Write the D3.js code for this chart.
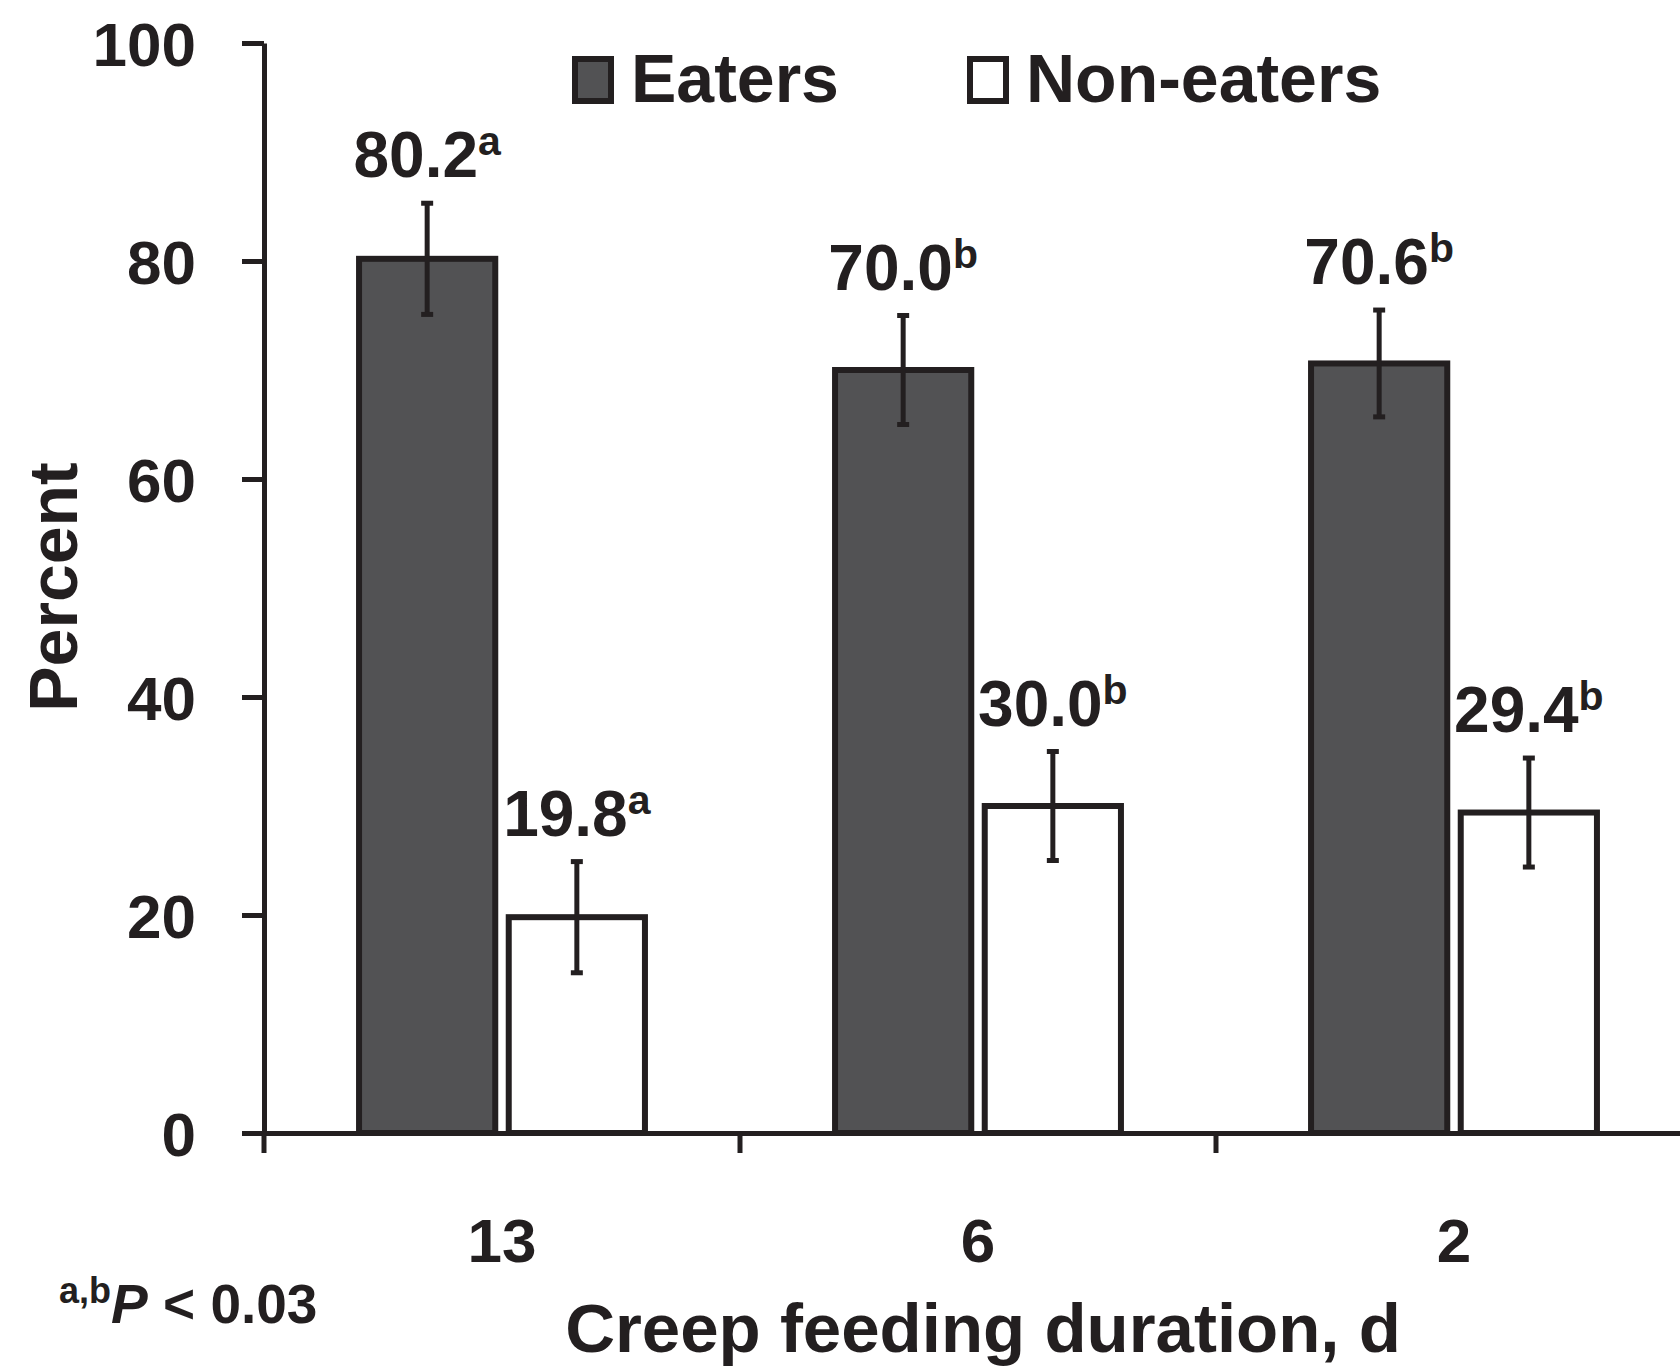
<!DOCTYPE html>
<html lang="en">
<head>
    <meta charset="UTF-8">
    <title>Creep feeding duration - Eaters vs Non-eaters</title>
    <script src="https://d3js.org/d3.v7.min.js"></script>
    <style>
        body {
            margin: 0;
            background: #fff;
        }

        svg {
            display: block;
            font-family: "Liberation Sans", Arial, sans-serif;
            font-weight: bold;
            fill: #231f20;
        }

        .axis path,
        .axis line {
            stroke: #231f20;
            stroke-width: 5px;
        }

        .axis text {
            font-size: 62px;
            fill: #231f20;
        }

        .bar {
            stroke: #231f20;
            stroke-width: 6px;
        }

        .err {
            stroke: #231f20;
            stroke-width: 5px;
        }
    </style>
</head>
<body>
    <svg class="chart"></svg>

    <script>
        // Datos
        const categories = ["13", "6", "2"];
        const series = ["Eaters", "Non-eaters"];
        const eaters = [80.2, 70.0, 70.6];
        const nonEaters = [19.8, 30.0, 29.4];
        const eatersErr = [5.1, 5.0, 4.9];
        const nonEatersErr = [5.1, 5.0, 5.0];
        const eatersLetters = ["a", "b", "b"];
        const nonEatersLetters = ["a", "b", "b"];
        const yTicks = [0, 20, 40, 60, 80, 100];

        const colors = { "Eaters": "#525254", "Non-eaters": "#ffffff" };

        // Dimensiones
        const W = 1680, H = 1369;
        const margin = { top: 43, left: 264 };
        const plotW = 1428, plotH = 1090;

        const root = d3.select(".chart").attr("width", W).attr("height", H);
        const svg = root.append("g")
            .attr("transform", "translate(" + margin.left + "," + margin.top + ")");

        const x0 = d3.scaleBand().domain(categories).range([0, plotW]);
        const x1 = d3.scaleBand().domain(series).range([0, x0.bandwidth()])
            .paddingInner(0.09).paddingOuter(0.635);
        const y = d3.scaleLinear().domain([0, 100]).range([plotH, 0]);

        // Tabla para las barras
        const rows = [];
        categories.forEach((c, i) => {
            rows.push({ cat: c, key: "Eaters", value: eaters[i], err: eatersErr[i], letter: eatersLetters[i] });
            rows.push({ cat: c, key: "Non-eaters", value: nonEaters[i], err: nonEatersErr[i], letter: nonEatersLetters[i] });
        });

        // Barras
        svg.selectAll(".bar")
            .data(rows)
            .enter().append("rect")
            .attr("class", "bar")
            .attr("x", d => x0(d.cat) + x1(d.key))
            .attr("y", d => y(d.value))
            .attr("width", x1.bandwidth())
            .attr("height", d => y(0) - y(d.value))
            .attr("fill", d => colors[d.key]);

        // Barras de error
        const cx = d => x0(d.cat) + x1(d.key) + x1.bandwidth() / 2;
        const errG = svg.selectAll(".errg").data(rows).enter().append("g");
        errG.append("line").attr("class", "err")
            .attr("x1", cx).attr("x2", cx)
            .attr("y1", d => y(d.value + d.err))
            .attr("y2", d => y(d.value - d.err));
        errG.append("line").attr("class", "err")
            .attr("x1", d => cx(d) - 6).attr("x2", d => cx(d) + 6)
            .attr("y1", d => y(d.value + d.err)).attr("y2", d => y(d.value + d.err));
        errG.append("line").attr("class", "err")
            .attr("x1", d => cx(d) - 6).attr("x2", d => cx(d) + 6)
            .attr("y1", d => y(d.value - d.err)).attr("y2", d => y(d.value - d.err));

        // Etiquetas de valores
        const lab = svg.selectAll(".lab").data(rows).enter().append("text")
            .attr("class", "lab")
            .attr("x", cx)
            .attr("y", d => y(d.value + d.err) - 26)
            .attr("text-anchor", "middle")
            .style("font-size", "64px");
        lab.append("tspan").text(d => d.value.toFixed(1));
        lab.append("tspan").attr("dy", -22).style("font-size", "41px").text(d => d.letter);

        // Eje Y
        svg.append("g")
            .attr("class", "axis")
            .call(d3.axisLeft(y).tickValues(yTicks).tickSize(22).tickSizeOuter(0).tickPadding(46))
            .call(g => g.selectAll("text").attr("dy", "0.36em"));

        // Eje X (marcas en los límites de categoría)
        svg.append("g")
            .attr("class", "axis")
            .attr("transform", "translate(0," + plotH + ")")
            .call(d3.axisBottom(x0).tickSize(20).tickSizeOuter(0))
            .call(g => g.selectAll(".tick line")
                .attr("x1", -x0.bandwidth() / 2).attr("x2", -x0.bandwidth() / 2))
            .call(g => g.selectAll(".tick text").attr("y", 129).attr("dy", 0));

        // Títulos de ejes
        root.append("text")
            .attr("transform", "translate(77,587) rotate(-90)")
            .attr("text-anchor", "middle")
            .style("font-size", "68px")
            .text("Percent");

        root.append("text")
            .attr("x", 983).attr("y", 1352)
            .attr("text-anchor", "middle")
            .style("font-size", "69px")
            .text("Creep feeding duration, d");

        // Nota al pie
        const note = root.append("text").attr("x", 59).attr("y", 1323).style("font-size", "55px");
        note.append("tspan").style("font-size", "36px").attr("dy", -20).text("a,b");
        note.append("tspan").attr("dy", 20).style("font-style", "italic").text("P");
        note.append("tspan").text(" < 0.03");

        // Leyenda
        const legend = root.append("g").attr("transform", "translate(575,59)");
        const legX = [0, 395];
        series.forEach((s, i) => {
            const item = legend.append("g").attr("transform", "translate(" + legX[i] + ",0)");
            item.append("rect")
                .attr("width", 36).attr("height", 42)
                .attr("fill", colors[s])
                .attr("stroke", "#231f20").attr("stroke-width", 6);
            item.append("text")
                .attr("x", 56).attr("y", 43)
                .style("font-size", "68px")
                .text(s);
        });
    </script>
</body>
</html>
